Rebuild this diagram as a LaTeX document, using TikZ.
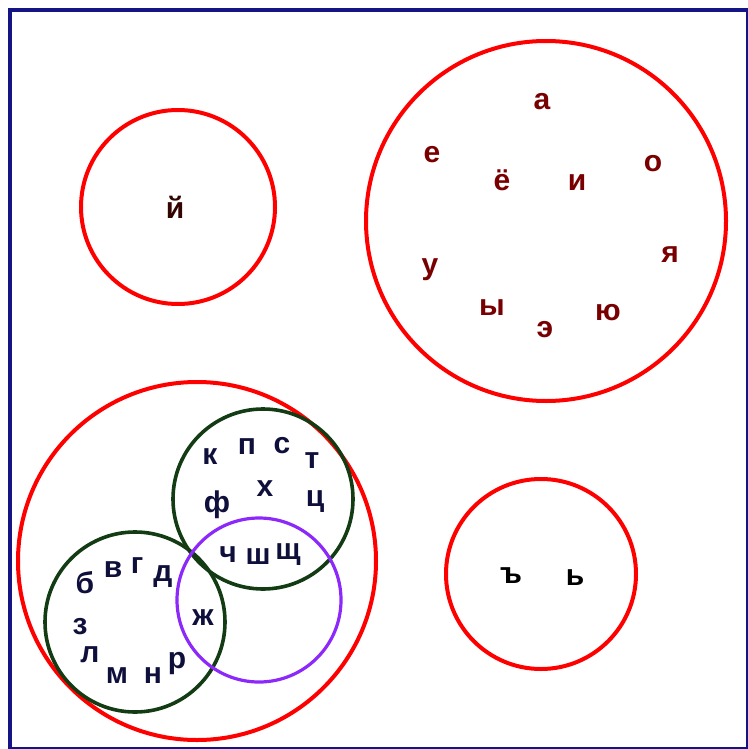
\documentclass[tikz,border=0pt]{standalone}
\usepackage{fontspec}
\setmainfont{Liberation Sans}
\definecolor{framenavy}{RGB}{20,20,135}
\definecolor{ringred}{RGB}{255,0,0}
\definecolor{ringgreen}{RGB}{20,60,20}
\definecolor{ringviolet}{RGB}{140,40,250}
\definecolor{vowelred}{RGB}{120,0,0}
\definecolor{consnavy}{RGB}{15,15,60}
\definecolor{softdark}{RGB}{50,5,0}
\begin{document}
\begin{tikzpicture}[x=0.5pt, y=-0.5pt,
    ring/.style={draw, circle, inner sep=0pt, outer sep=0pt},
    letter/.style={inner sep=0pt, font=\fontsize{15}{15}\selectfont\bfseries},
    vowel/.style={letter, text=vowelred},
    cons/.style={letter, text=consnavy}]
  \useasboundingbox (0,0) rectangle (748,749);
  \draw[framenavy, line width=2pt] (10,10) rectangle (747.5,748.5);
  \node[ring, ringred, line width=2pt, minimum size=97pt] (ringJ) at (178,207) {};
  \node[ring, ringred, line width=2pt, minimum size=180pt] (ringV) at (546,221) {};
  \node[ring, ringred, line width=2pt, minimum size=95pt] (ringS) at (541,574) {};
  \node[ring, ringred, line width=2pt, minimum size=179pt] (ringC) at (197,561) {};
  \node[ring, ringgreen, line width=1.8pt, minimum size=90pt] (ringU) at (263,499) {};
  \node[ring, ringgreen, line width=1.8pt, minimum size=90pt] (ringL) at (135,622) {};
  \node[ring, ringviolet, line width=1.6pt, minimum size=82pt] (ringP) at (259,600) {};
  \node[letter, text=softdark] (jot) at (175,207) {й};
  \foreach \t/\n/\p in {а/a/{(542,102)}, е/e/{(432,155)}, ё/yo/{(502,180)},
      и/i/{(577,183)}, о/o/{(653,164)}, я/ya/{(670,255)}, у/u/{(430,270)},
      ы/y/{(492,308)}, э/ee/{(545,330)}, ю/yu/{(608,313)}}
    \node[vowel] (v\n) at \p {\t};
  \foreach \t/\n/\p in {к/k/{(210,457)}, п/p/{(247,447)}, с/s/{(282,446)},
      т/t/{(312,461)}, х/h/{(265,489)}, ф/f/{(217,505)}, ц/c/{(315,502)},
      ч/ch/{(228,555)}, ш/sh/{(258,557)}, щ/sch/{(288,555)},
      б/b/{(85,583)}, в/v/{(113,570)}, г/g/{(137,566)}, д/d/{(163,577)},
      з/z/{(80,627)}, ж/zh/{(203,618)}, л/l/{(90,655)}, м/m/{(117,676)},
      н/n/{(153,676)}, р/r/{(177,664)}}
    \node[cons] (c\n) at \p {\t};
  \node[letter, text=black] (hard) at (511,576) {ъ};
  \node[letter, text=black] (soft) at (575,578) {ь};
\end{tikzpicture}
\end{document}
